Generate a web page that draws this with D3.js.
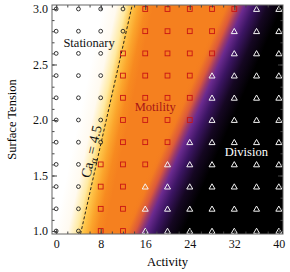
<!DOCTYPE html>
<html><head><meta charset="utf-8">
<script src="https://cdn.jsdelivr.net/npm/d3@7"></script>
<style>
body{margin:0;background:#fff}
svg text{font-family:"Liberation Serif","Times New Roman",serif}
</style></head><body>
<svg id="chart" width="290" height="272"></svg>
<script>
var activity = [0,4,8,12,16,20,24,28,32,36,40];
var tension = [3.0,2.8,2.6,2.4,2.2,2.0,1.8,1.6,1.4,1.2,1.0];
// S = stationary, M = motility, D = division (one string per tension row)
var phase = [
	"SSSSMMMMMDD",
	"SSSSMMMMDDD",
	"SSSMMMMMDDD",
	"SSSMMMMDDDD",
	"SSSMMMMDDDD",
	"SSSMMMMDDDD",
	"SSSMMMDDDDD",
	"SSMMMDDDDDD",
	"SSMMDDDDDDD",
	"SSMMDDDDDDD",
	"SSMMDDDDDDD"
];
var xTicks = [0,8,16,24,32,40];
var yTicks = [1.0,1.5,2.0,2.5,3.0];
var caValue = 4.5;
// phase edges: [activity, tension]
var stationaryEdge = [[5.6,1.0],[14.2,3.0]];
var divisionEdge = [[15.8,1.0],[33.4,3.0]];

var svg = d3.select("#chart");
var pLeft = 52, pRight = 283, pTop = 5, pBottom = 234;

var x = d3.scaleLinear().domain([-0.75, 40.75]).range([pLeft, pRight]);
var y = d3.scaleLinear().domain([0.973, 3.036]).range([pBottom, pTop]);

var defs = svg.append("defs");
defs.append("clipPath").attr("id","plot")
	.append("rect").attr("x",pLeft).attr("y",pTop).attr("width",pRight-pLeft).attr("height",pBottom-pTop);

function edgeGradient(id, edge, stops){
	var p1 = [x(edge[0][0]), y(edge[0][1])], p2 = [x(edge[1][0]), y(edge[1][1])];
	var dx = p2[0]-p1[0], dy = p2[1]-p1[1], len = Math.hypot(dx,dy);
	var nx = -dy/len, ny = dx/len;
	var mx = (p1[0]+p2[0])/2, my = (p1[1]+p2[1])/2;
	var d0 = stops[0][0], d1 = stops[stops.length-1][0];
	var g = defs.append("linearGradient").attr("id",id)
		.attr("gradientUnits","userSpaceOnUse")
		.attr("x1", mx+nx*d0).attr("y1", my+ny*d0)
		.attr("x2", mx+nx*d1).attr("y2", my+ny*d1);
	stops.forEach(s => {
		g.append("stop").attr("offset",(s[0]-d0)/(d1-d0))
			.attr("stop-color",s[1]).attr("stop-opacity", s[2] == null ? 1 : s[2]);
	});
}

edgeGradient("gradS", stationaryEdge, [
	[-32,"#ffffff"],[-19,"#fffaf0"],[-10,"#ffeaa2"],[-4,"#fec64a"],
	[3,"#fba52c"],[10,"#f78a20"],[17,"#f5801f"]
]);
edgeGradient("gradD", divisionEdge, [
	[-20,"#f5801f",0],[-15,"#f37c21"],[-8,"#dc5a3a"],[-3,"#9a3a6c"],[1,"#6b2a8f"],
	[10,"#3c1563"],[22,"#150722"],[36,"#000000"]
]);

var field = svg.append("g").attr("clip-path","url(#plot)");
field.append("rect").attr("x",pLeft).attr("y",pTop).attr("width",pRight-pLeft).attr("height",pBottom-pTop)
	.attr("fill","url(#gradS)");
field.append("rect").attr("x",pLeft).attr("y",pTop).attr("width",pRight-pLeft).attr("height",pBottom-pTop)
	.attr("fill","url(#gradD)");

// Ca = 4.5 dashed line
var caLine = [y.domain()[0], y.domain()[1]].map(t => [x(caValue*t), y(t)]);
field.append("line")
	.attr("x1",caLine[0][0]).attr("y1",caLine[0][1])
	.attr("x2",caLine[1][0]).attr("y2",caLine[1][1])
	.attr("stroke","#111").attr("stroke-width",0.9).attr("stroke-dasharray","3,2");

// markers
var points = [];
tension.forEach((t,i) => activity.forEach((a,j) => points.push({a:a, t:t, p:phase[i][j]})));

var marks = svg.append("g");
marks.selectAll("circle").data(points.filter(d => d.p == "S")).join("circle")
	.attr("cx", d => x(d.a)).attr("cy", d => y(d.t)).attr("r",1.9)
	.attr("fill","none").attr("stroke","#222").attr("stroke-width",0.9);
marks.selectAll("rect").data(points.filter(d => d.p == "M")).join("rect")
	.attr("x", d => x(d.a)-2.4).attr("y", d => y(d.t)-2.4).attr("width",4.8).attr("height",4.8)
	.attr("fill","none").attr("stroke","#c81414").attr("stroke-width",0.9);
marks.selectAll("path").data(points.filter(d => d.p == "D")).join("path")
	.attr("d", d => { var cx = x(d.a), cy = y(d.t); return "M"+(cx-3)+","+(cy+2.4)+"L"+(cx+3)+","+(cy+2.4)+"L"+cx+","+(cy-2.8)+"Z"; })
	.attr("fill","none").attr("stroke","#f4f4f4").attr("stroke-width",1);

// axes, major + minor ticks pointing inward on all four sides
var xMinor = d3.range(0,41,2);
var yMinor = d3.range(10,31).map(v => v/10);
var fmtY = d3.format(".1f");
svg.append("g").attr("transform","translate(0,"+pBottom+")")
	.call(d3.axisBottom(x).tickValues(xMinor).tickSize(-2.5).tickFormat(""));
svg.append("g").attr("transform","translate(0,"+pBottom+")")
	.call(d3.axisBottom(x).tickValues(xTicks).tickSize(-5).tickPadding(5).tickSizeOuter(0));
svg.append("g").attr("transform","translate(0,"+pTop+")")
	.call(d3.axisTop(x).tickValues(xMinor).tickSize(-2.5).tickFormat(""));
svg.append("g").attr("transform","translate(0,"+pTop+")")
	.call(d3.axisTop(x).tickValues(xTicks).tickSize(-5).tickFormat(""));
svg.append("g").attr("transform","translate("+pLeft+",0)")
	.call(d3.axisLeft(y).tickValues(yMinor).tickSize(-2.5).tickFormat(""));
svg.append("g").attr("transform","translate("+pLeft+",0)")
	.call(d3.axisLeft(y).tickValues(yTicks).tickSize(-5).tickPadding(4).tickFormat(fmtY).tickSizeOuter(0));
svg.append("g").attr("transform","translate("+pRight+",0)")
	.call(d3.axisRight(y).tickValues(yMinor).tickSize(-2.5).tickFormat(""));
svg.append("g").attr("transform","translate("+pRight+",0)")
	.call(d3.axisRight(y).tickValues(yTicks).tickSize(-5).tickFormat(""));

svg.selectAll(".domain").remove();
svg.selectAll(".tick line").attr("stroke","#444");
svg.selectAll(".tick text").attr("font-size",12).attr("fill","#111")
	.attr("font-family",'"Liberation Serif",serif');
svg.append("rect").attr("x",pLeft).attr("y",pTop).attr("width",pRight-pLeft).attr("height",pBottom-pTop)
	.attr("fill","none").attr("stroke","#666").attr("stroke-width",1);

// axis titles
svg.append("text").attr("x",(pLeft+pRight)/2).attr("y",266).attr("text-anchor","middle")
	.attr("font-size",12.5).text("Activity");
svg.append("text").attr("transform","translate(16,"+((pTop+pBottom)/2)+") rotate(-90)")
	.attr("text-anchor","middle").attr("font-size",12.5).text("Surface Tension");

// region labels
svg.append("text").attr("x",x(1.3)).attr("y",y(2.655)).attr("font-size",12.5).attr("fill","#111").text("Stationary");
svg.append("text").attr("x",x(14.1)).attr("y",y(2.08)).attr("font-size",12.5).attr("fill","#a81515").text("Motility");
svg.append("text").attr("x",x(30.3)).attr("y",y(1.68)).attr("font-size",12.5).attr("fill","#ffffff").text("Division");

// Ca label along the dashed line
var ang = Math.atan2(caLine[1][1]-caLine[0][1], caLine[1][0]-caLine[0][0]) * 180/Math.PI;
var tc = 1.7;
var ca = svg.append("text")
	.attr("transform","translate("+x(caValue*tc)+","+y(tc)+") rotate("+ang+")")
	.attr("y",-3).attr("text-anchor","middle").attr("font-size",14).attr("fill","#111");
ca.append("tspan").text("Ca");
ca.append("tspan").attr("font-size",10).attr("dy",3).text("α");
ca.append("tspan").attr("dy",-3).text(" = 4.5");
</script>
</body></html>
